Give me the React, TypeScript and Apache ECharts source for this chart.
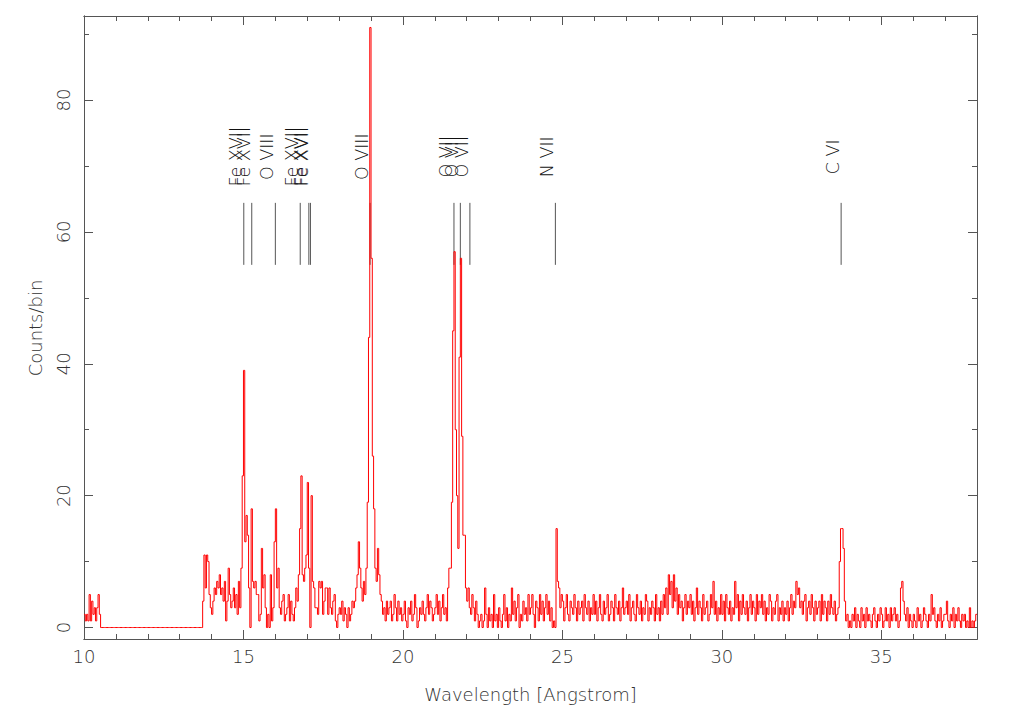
import React, { useEffect, useRef } from "react";
import * as echarts from "echarts";

// ---- spectrum: counts per 0.04 Angstrom bin, one array per Angstrom ----
const startWave = 10.0;
const binWidth = 0.04;
const c10 = [2,1,2,1,5,1,4,2,3,1,3,5,2,0,0,0,0,0,0,0,0,0,0,0,0];
const c11 = [0,0,0,0,0,0,0,0,0,0,0,0,0,0,0,0,0,0,0,0,0,0,0,0,0];
const c12 = [0,0,0,0,0,0,0,0,0,0,0,0,0,0,0,0,0,0,0,0,0,0,0,0,0];
const c13 = [0,0,0,0,0,0,0,0,0,0,0,0,0,0,0,0,0,0,4,11,6,11,10,5,3];
const c14 = [2,4,6,5,7,6,8,5,6,4,7,1,4,9,5,3,4,6,3,5,2,7,3,9,23];
const c15 = [39,13,17,14,6,0,18,7,6,7,5,5,1,2,12,6,8,3,0,2,0,8,1,3,13];
const c16 = [18,6,9,3,2,4,5,1,2,3,5,1,4,2,1,3,6,4,8,15,23,8,7,9,11];
const c17 = [22,9,0,20,7,6,3,3,2,7,6,7,2,4,6,6,2,6,3,2,4,5,1,0,2];
const c18 = [3,2,4,1,3,2,0,3,1,2,4,3,4,6,8,13,9,6,4,7,5,9,19,44,91];
const c19 = [56,26,18,9,7,12,8,5,4,2,3,1,4,2,3,4,1,2,5,3,1,4,2,3,1];
const c20 = [2,4,1,0,3,2,4,1,2,5,3,0,1,3,2,4,2,1,3,5,2,4,3,1,2];
const c21 = [3,5,2,4,1,3,5,2,3,1,6,9,9,19,45,57,30,20,12,41,56,29,14,14,6];
const c22 = [4,6,3,2,5,3,1,4,2,0,1,2,0,1,6,2,0,3,1,2,0,5,1,2,0];
const c23 = [3,1,0,2,5,1,3,0,2,1,6,2,4,1,3,5,0,2,1,4,2,3,1,5,2];
const c24 = [3,5,2,0,4,3,1,5,2,4,1,3,5,2,4,1,3,0,1,0,15,7,6,3,5];
const c25 = [4,1,3,5,2,1,4,3,2,5,3,1,4,2,3,4,1,5,3,2,4,1,3,2,5];
const c26 = [2,4,1,3,5,2,1,4,2,3,5,1,2,4,3,1,5,3,2,4,1,3,6,2,3];
const c27 = [4,2,5,1,3,4,2,1,5,3,2,4,1,3,2,5,4,1,3,2,4,3,1,5,2];
const c28 = [3,1,4,2,5,3,6,2,8,5,7,3,8,4,6,2,5,3,4,1,3,5,2,4,3];
const c29 = [5,2,4,1,3,6,2,4,3,1,5,2,3,4,1,2,5,3,7,2,4,1,3,2,5];
const c30 = [2,4,1,5,3,2,4,1,3,2,7,3,5,1,4,2,5,3,2,4,1,3,5,2,4];
const c31 = [3,1,5,2,4,3,5,2,4,1,3,2,5,4,1,3,2,4,5,1,3,2,4,1,3];
const c32 = [2,4,1,3,5,2,4,3,7,5,6,3,4,2,4,5,1,3,4,2,5,3,1,4,2];
const c33 = [3,4,1,5,2,4,3,1,4,2,5,3,2,4,1,2,3,10,15,15,12,4,1,2,0];
const c34 = [1,0,2,1,3,0,2,1,0,3,1,2,0,3,1,2,1,0,2,3,1,0,2,1,3];
const c35 = [2,0,1,3,1,2,0,3,1,2,3,1,2,0,1,6,7,4,2,1,3,0,2,1,0];
const c36 = [2,1,0,3,1,2,0,1,3,2,1,0,2,1,5,2,3,1,0,2,1,3,0,1,2];
const c37 = [2,4,1,0,2,1,3,0,2,1,3,1,0,2,1,2,0,1,0,3,0,1,0,1,2];

// ---- line identifications ----
const lineWaves = [15.01, 15.26, 16.0, 16.78, 17.05, 17.1, 18.97, 21.6, 21.8, 22.1, 24.78, 33.74];
const lineLabels = ["Fe XVII", "Fe XVII", "O VIII", "Fe XVII", "Fe XVII", "Fe XVII", "O VIII", "O VII", "O VII", "O VII", "N VII", "C VI"];

// ---- axis ticks ----
const xMajor = [10, 15, 20, 25, 30, 35];
const xMinor = [11, 12, 13, 14, 16, 17, 18, 19, 21, 22, 23, 24, 26, 27, 28, 29, 31, 32, 33, 34, 36, 37];
const yMajor = [0, 20, 40, 60, 80];
const yMinor = [10, 30, 50, 70, 90];

const FONT = "DejaVu Sans";
const WEIGHT = 200;
const AXIS_COLOR = "#555";
const TEXT_COLOR = "#333";

export default function App() {
  const ref = useRef<HTMLDivElement>(null);
  useEffect(() => {
    if (!ref.current) return;
    const chart = echarts.init(ref.current, undefined, { renderer: "svg" });
    const counts = [
      ...c10, ...c11, ...c12, ...c13, ...c14, ...c15, ...c16, ...c17, ...c18, ...c19,
      ...c20, ...c21, ...c22, ...c23, ...c24, ...c25, ...c26, ...c27, ...c28, ...c29,
      ...c30, ...c31, ...c32, ...c33, ...c34, ...c35, ...c36, ...c37,
    ];
    const pts: number[][] = counts.map((v, i) => [Math.round((startWave + i * binWidth) * 100) / 100, v]);
    pts.push([Math.round((startWave + counts.length * binWidth) * 100) / 100, counts[counts.length - 1]]);

    const xMin = 10, xMax = 38, yMin = -1.74, yMax = 92.74;
    const mkX = (pos: string, ticks: number[], len: number, labels: boolean, name?: string) => ({
      type: "value", min: xMin, max: xMax, position: pos, gridIndex: 0,
      axisLine: { show: true, onZero: false, lineStyle: { color: AXIS_COLOR, width: 1 } },
      axisTick: { show: true, inside: true, length: len, customValues: ticks, lineStyle: { color: AXIS_COLOR, width: 1 } },
      axisLabel: labels
        ? { show: true, customValues: ticks, fontSize: 18, fontFamily: FONT, fontWeight: WEIGHT, color: TEXT_COLOR, margin: 8 }
        : { show: false },
      splitLine: { show: false },
      ...(name ? { name, nameLocation: "middle", nameGap: 46, nameTextStyle: { fontSize: 18, fontFamily: FONT, fontWeight: WEIGHT, color: TEXT_COLOR } } : {}),
    });
    const mkY = (pos: string, ticks: number[], len: number, labels: boolean) => ({
      type: "value", min: yMin, max: yMax, position: pos, gridIndex: 0,
      axisLine: { show: true, onZero: false, lineStyle: { color: AXIS_COLOR, width: 1 } },
      axisTick: { show: true, inside: true, length: len, customValues: ticks, lineStyle: { color: AXIS_COLOR, width: 1 } },
      axisLabel: labels
        ? { show: true, customValues: ticks, rotate: 90, fontSize: 18, fontFamily: FONT, fontWeight: WEIGHT, color: TEXT_COLOR, margin: 12 }
        : { show: false },
      splitLine: { show: false },
    });

    chart.setOption({
      animation: false,
      backgroundColor: "#fff",
      grid: { left: 84, right: 32, top: 16, bottom: 83, containLabel: false },
      xAxis: [
        mkX("bottom", xMajor, 9, true, "Wavelength [Angstrom]"),
        mkX("bottom", xMinor, 5, false),
        mkX("top", xMajor, 9, false),
        mkX("top", xMinor, 5, false),
      ],
      yAxis: [
        mkY("left", yMajor, 9, true),
        mkY("left", yMinor, 5, false),
        mkY("right", yMajor, 9, false),
        mkY("right", yMinor, 5, false),
      ],
      graphic: [
        {
          type: "text", x: 35, y: 328, rotation: Math.PI / 2,
          style: { text: "Counts/bin", fontSize: 18, fontFamily: FONT, fontWeight: WEIGHT, fill: TEXT_COLOR, align: "center", verticalAlign: "middle" },
        },
      ],
      series: [
        {
          type: "line", xAxisIndex: 0, yAxisIndex: 0, data: pts, step: "end",
          showSymbol: false, symbol: "none",
          lineStyle: { color: "#ff0000", width: 1 }, silent: true,
        },
        {
          type: "custom", xAxisIndex: 0, yAxisIndex: 0, silent: true, clip: false,
          data: lineWaves.map((w, i) => [w, i]),
          renderItem: (params: any, api: any) => {
            const w = api.value(0);
            const idx = api.value(1);
            const top = api.coord([w, 64.4]);
            const bot = api.coord([w, 55.0]);
            const lab = api.coord([w, 71.4]);
            return {
              type: "group",
              children: [
                { type: "line", shape: { x1: top[0], y1: top[1], x2: bot[0], y2: bot[1] }, style: { stroke: "#555", lineWidth: 1 } },
                {
                  type: "text", x: lab[0] + 1, y: lab[1], rotation: Math.PI / 2,
                  style: { text: lineLabels[idx], fontSize: 17.5, fontFamily: FONT, fontWeight: WEIGHT, fill: "#111", align: "center", verticalAlign: "bottom" },
                },
              ],
            };
          },
        },
      ],
    });
    return () => chart.dispose();
  }, []);
  return <div ref={ref} style={{ position: "fixed", left: 0, top: 0, width: 1009, height: 722 }} />;
}
